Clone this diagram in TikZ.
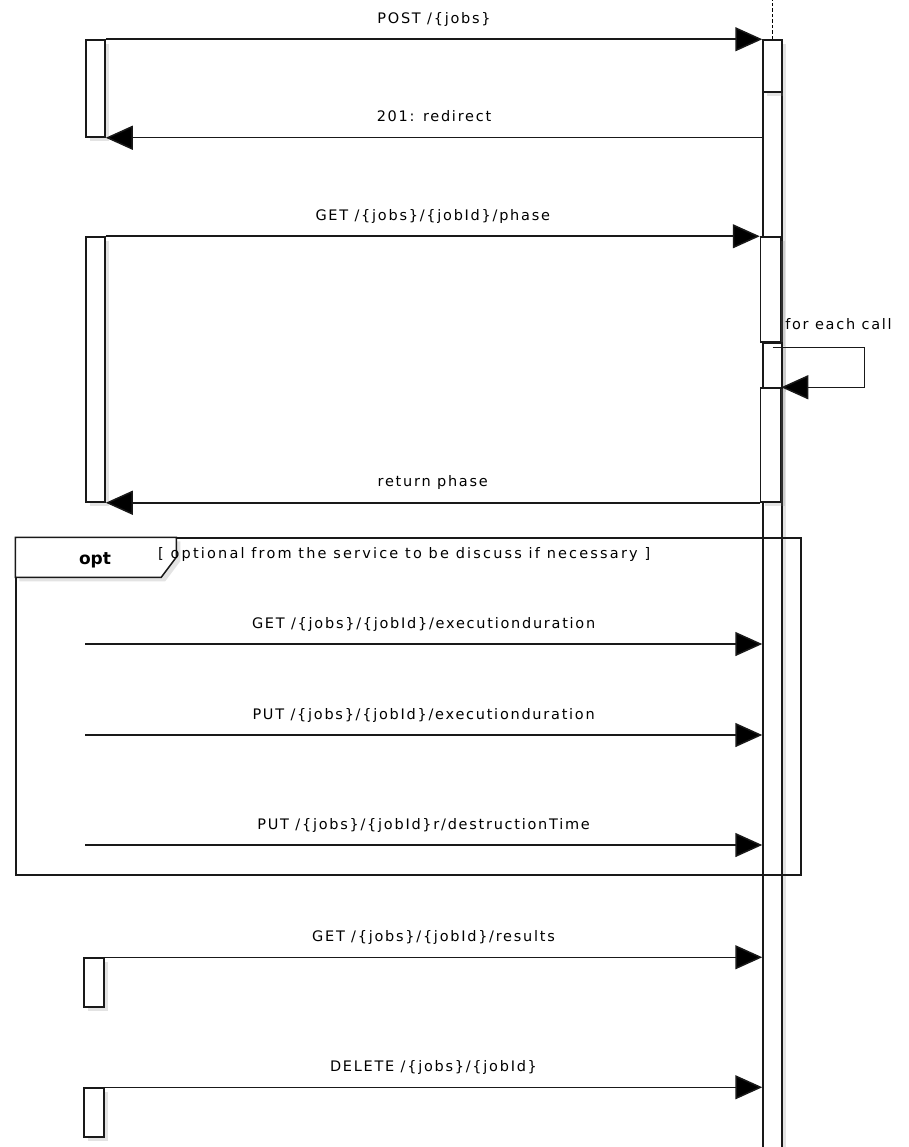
\documentclass[tikz,border=0pt]{standalone}
\usepackage{fontspec}
\setmainfont{DejaVu Sans}
\setsansfont{DejaVu Sans}
\newfontfamily\msgfont[LetterSpace=12]{DejaVu Sans}
\usetikzlibrary{arrows.meta, shadows, calc, positioning}

\tikzset{
	msg/.style={draw=black!90, line width=1.5pt, -{Triangle[length=27pt, width=24pt, fill=black]}},
	msglabel/.style={font=\msgfont\fontsize{14.5}{17}\selectfont, text=black, inner sep=0pt},
	actbox/.style={draw=black!90, fill=white, line width=1.5pt, inner sep=0pt, minimum width=19pt,
		drop shadow={opacity=0.22, shadow xshift=4pt, shadow yshift=-4pt}},
}

\begin{document}
\begin{tikzpicture}[x=1pt, y=-1pt, font=\sffamily]
	\useasboundingbox (0,0) rectangle (908,1147);

	% service lifeline and activations
	\node[actbox, minimum height=1070pt] (sLife) at (772.5,627) {};
	\node[actbox, minimum height=52pt] (sTop) at (772.5,66) {};
	\draw[black, line width=1.6pt, dash pattern=on 3.5pt off 2pt] (sTop.north) -- ++(0,-40);
	\node[actbox, minimum width=20pt, minimum height=105pt] (sPhase) at (770.5,289.5) {};
	\node[actbox, minimum height=45pt] (sLoop) at (772.5,365.5) {};
	\node[actbox, minimum width=20pt, minimum height=114pt] (sRet) at (770.5,445) {};

	% client activations
	\node[actbox, minimum height=97pt] (cPost) at (95.5,88.5) {};
	\node[actbox, minimum height=265pt] (cPhase) at (95.5,369.5) {};
	\node[actbox, minimum width=20pt, minimum height=49pt] (cRes) at (94,982.5) {};
	\node[actbox, minimum width=20pt, minimum height=49pt] (cDel) at (94,1112.5) {};

	% opt fragment
	\node[draw=black!90, line width=1.5pt, inner sep=0pt, minimum width=785pt, minimum height=337pt] (optframe) at (408.5,706.5) {};
	\draw[black!90, line width=1.5pt, fill=white, drop shadow={opacity=0.22, shadow xshift=4pt, shadow yshift=-4pt}]
		(optframe.north west) -- ++(161,0) -- ++(0,20) -- ++(-15,20) -- ++(-146,0) -- cycle;
	\node[anchor=base, font=\bfseries\fontsize{17}{20}\selectfont, inner sep=0pt] (optname) at (95,564) {opt};
	\node[msglabel, anchor=base west, font=\msgfont\fontsize{14.5}{17}\selectfont\addfontfeatures{LetterSpace=15}] (optguard) at (158,558) {[ optional from the service to be discuss if necessary ]};

	% messages
	\draw[msg] (cPost.north east) -- node[msglabel, midway, anchor=base, yshift=16pt] {POST /\{jobs\}} (sTop.north west);
	\draw[msg] (sLife.west |- cPost.south) -- node[msglabel, midway, anchor=base, yshift=16pt] {201: redirect} (cPost.south east);
	\draw[msg] (cPhase.north east) -- node[msglabel, midway, anchor=base, yshift=16pt] {GET /\{jobs\}/\{jobId\}/phase} (sPhase.north west);
	\draw[msg] ([yshift=-5pt]sLoop.north) node[msglabel, anchor=base west, xshift=12pt, yshift=18pt] {for each call}
		-- ++(92,0) |- (sRet.north east);
	\draw[msg] (sRet.south west) -- node[msglabel, midway, anchor=base, yshift=16pt] {return phase} (cPhase.south east);

	\foreach \y/\txt in {644/{GET /\{jobs\}/\{jobId\}/executionduration},
		735/{PUT /\{jobs\}/\{jobId\}/executionduration},
		845/{PUT /\{jobs\}/\{jobId\}r/destructionTime}}	{
		\coordinate (opt\y) at (85,\y);
		\draw[msg] (opt\y) -- node[msglabel, midway, anchor=base, yshift=16pt] {\txt} (opt\y -| sLife.west);
	}

	\draw[msg] (cRes.north east) -- node[msglabel, midway, anchor=base, yshift=16pt] {GET /\{jobs\}/\{jobId\}/results} (cRes.north east -| sLife.west);
	\draw[msg] (cDel.north east) -- node[msglabel, midway, anchor=base, yshift=16pt] {DELETE /\{jobs\}/\{jobId\}} (cDel.north east -| sLife.west);
\end{tikzpicture}
\end{document}
